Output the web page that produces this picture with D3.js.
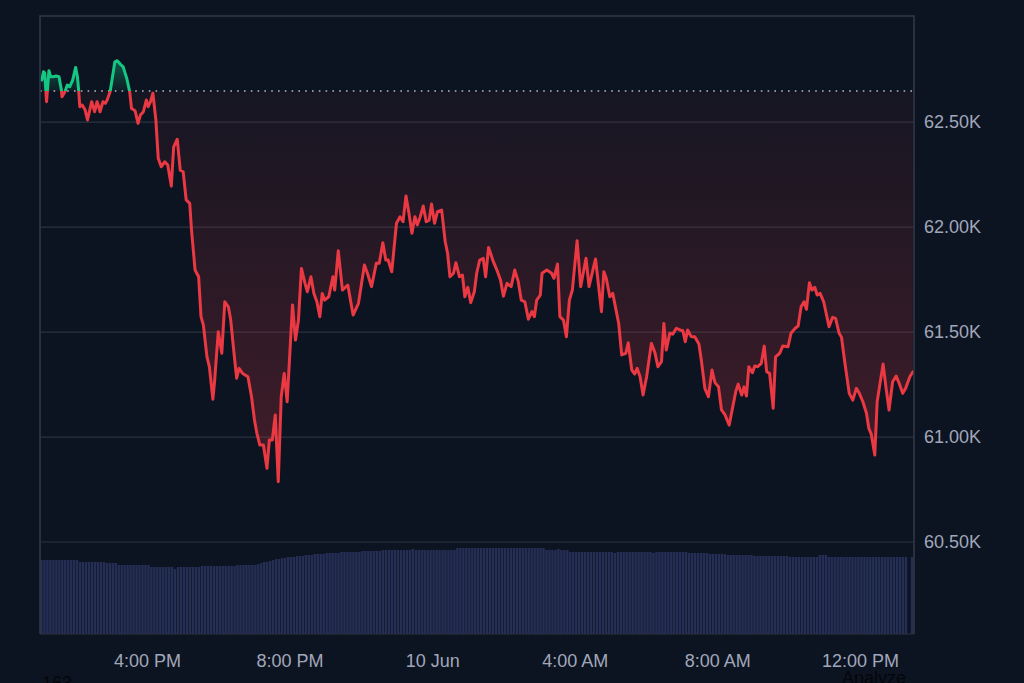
<!DOCTYPE html>
<html><head><meta charset="utf-8">
<script src="https://cdn.jsdelivr.net/npm/d3@7"></script>
<style>
html,body{margin:0;padding:0;background:#0d1421;}
svg{display:block;}
text{font-family:"Liberation Sans", Arial, sans-serif;}
</style></head><body>
<svg id="chart" width="1024" height="683"></svg>
<script>
// ---------- DATA ----------
const startTimeStr = "2024-06-09 13:00";
const endMinute = 1471;               // minutes after start covered by the x axis
// price samples: minutes after start, price in USD
const minutes = [3,6,8,11,15,18,22,27,32,36,37,42,46,50,55,60,63,65,67,71,76,80,85,87,92,96,98,101,106,110,113,118,122,126,130,135,140,146,151,154,160,165,169,174,179,182,186,190,195,199,204,210,215,221,225,231,236,241,246,252,255,261,267,271,275,281,285,291,294,300,306,311,317,321,326,331,335,341,350,356,361,365,370,376,382,386,391,396,401,406,411,416,425,430,435,440,446,450,456,461,466,471,475,479,486,493,496,502,509,518,527,536,546,551,558,566,571,577,582,586,592,600,606,611,616,621,626,631,635,640,645,650,655,659,664,669,676,682,686,690,696,700,706,711,715,720,725,731,735,740,746,750,755,763,769,775,780,786,793,799,805,810,816,822,828,832,836,842,845,853,861,865,871,875,881,886,891,896,904,910,919,924,935,945,949,953,959,964,974,979,986,990,996,1001,1005,1010,1015,1021,1029,1035,1040,1046,1050,1054,1060,1065,1071,1077,1082,1086,1090,1096,1102,1109,1113,1119,1125,1131,1136,1142,1147,1153,1160,1166,1171,1175,1181,1185,1189,1193,1199,1203,1208,1214,1219,1223,1228,1234,1238,1245,1250,1259,1264,1271,1276,1281,1286,1290,1295,1299,1304,1308,1313,1319,1328,1334,1339,1345,1349,1354,1362,1368,1374,1379,1385,1391,1395,1399,1405,1409,1419,1424,1429,1435,1441,1446,1452,1457,1464,1469];
const prices = [62700,62740,62733,62597,62744,62716,62716,62719,62716,62652,62620,62644,62676,62668,62700,62760,62716,62652,62573,62581,62557,62510,62573,62597,62549,62597,62581,62549,62597,62589,62605,62644,62716,62787,62792,62776,62763,62708,62644,62565,62554,62494,62533,62549,62605,62573,62597,62637,62510,62327,62287,62311,62295,62195,62382,62418,62271,62263,62129,62113,61986,61795,61763,61573,61533,61382,61335,61180,61271,61501,61399,61644,61620,61557,61414,61280,61327,61303,61287,61192,61081,61018,60962,60962,60851,60986,60986,61105,60787,61192,61303,61168,61629,61462,61557,61803,61732,61692,61763,61684,61644,61573,61684,61652,61668,61763,61700,61887,61700,61724,61581,61637,61819,61780,61716,61827,61827,61925,61843,61843,61787,62018,62049,62025,62148,62065,61970,62049,62010,62049,62100,62025,62033,62110,62018,62073,62081,61930,61875,61763,61780,61830,61763,61771,61668,61713,61640,61692,61780,61843,61851,61763,61903,61835,61795,61748,61671,61732,61716,61795,61740,61652,61644,61561,61597,61573,61652,61676,61780,61795,61780,61756,61824,61573,61557,61478,61652,61700,61935,61716,61851,61716,61848,61597,61787,61756,61668,61684,61541,61391,61399,61449,61319,61300,61327,61287,61200,61287,61446,61401,61335,61359,61541,61414,61494,61490,61518,61510,61506,61454,61510,61478,61478,61443,61367,61232,61192,61319,61259,61239,61129,61105,61057,61144,61216,61252,61200,61239,61195,61335,61306,61338,61335,61351,61433,61311,61303,61137,61382,61399,61433,61430,61494,61518,61529,61620,61644,61608,61735,61700,61713,61676,61684,61644,61525,61570,61565,61494,61475,61367,61208,61176,61232,61208,61168,61113,61041,61014,60914,61168,61348,61232,61129,61263,61290,61256,61208,61232,61287,61310];
const baselinePrice = 62648;          // reference (open) price, dotted line
const priceDomain = [60062, 63005];
const priceTicks = [60500, 61000, 61500, 62000, 62500];
const timeTicks = ["2024-06-09 16:00","2024-06-09 20:00","2024-06-10 00:00","2024-06-10 04:00","2024-06-10 08:00","2024-06-10 12:00"];
const timeTickLabels = ["4:00 PM","8:00 PM","10 Jun","4:00 AM","8:00 AM","12:00 PM"];
const volumeInterval = 5;             // minutes per volume bar
const volumeMax = 100;                // relative volume units
const volumes = [
74,74,74,74,74,74,74,74,74,74,74,74,
74,72,72,72,72,72,72,72,72,72,71,71,
71,71,69,69,69,69,69,69,69,69,69,69,
69,67,67,67,67,67,67,67,67,65,67,67,
67,67,67,67,67,67,68,68,68,68,68,68,
68,68,68,68,68,68,69,69,69,69,69,69,
69,70,71,72,72,73,74,75,75,76,76,77,
77,77,78,78,78,79,79,79,80,80,80,80,
81,81,81,81,81,82,82,82,82,82,82,82,
83,83,83,83,83,83,83,84,84,84,84,84,
84,84,84,84,84,85,84,84,84,84,84,84,
84,84,84,84,84,84,84,84,86,86,86,86,
86,86,86,86,86,86,86,86,86,86,86,86,
86,86,86,86,86,86,86,86,86,86,86,86,
86,86,84,84,84,84,85,84,84,84,82,82,
82,82,82,82,82,82,82,82,82,82,82,82,
82,81,82,82,82,82,82,82,82,82,82,82,
82,82,81,82,82,82,82,82,82,82,82,82,
82,82,81,81,81,81,81,81,81,80,80,80,
80,80,80,79,79,79,79,79,79,79,79,79,
78,78,78,78,78,78,78,78,78,78,78,78,
77,77,77,77,77,77,77,77,77,77,79,79,
79,77,77,77,77,77,77,77,77,77,77,77,
77,77,77,77,77,77,77,77,77,77,77,77,
77,77,77,77,0,77];
const footerLeft = "163";
const footerRight = "Analyze";

// ---------- CHART ----------
(function draw() {
const pL = 40, pR = 914, pT = 16, pB = 634;
const svg = d3.select("#chart");
const parse = d3.timeParse("%Y-%m-%d %H:%M");
const t0 = parse(startTimeStr);
const addMin = m => new Date(t0.getTime() + m * 60000);

const x = d3.scaleTime().domain([t0, addMin(endMinute)]).range([pL, pR]);
const y = d3.scaleLinear().domain(priceDomain).range([pB, pT]);
const vy = d3.scaleLinear().domain([0, volumeMax]).range([pB, pB - 100]);

const data = minutes.map((m, i) => ({date: addMin(m), price: prices[i]}));
const RED = "#ea3943", GREEN = "#16c784";
const by = y(baselinePrice);

const defs = svg.append("defs");
defs.append("clipPath").attr("id","clipAbove").append("rect")
  .attr("x", pL).attr("y", pT).attr("width", pR-pL).attr("height", by-pT);
defs.append("clipPath").attr("id","clipBelow").append("rect")
  .attr("x", pL).attr("y", by).attr("width", pR-pL).attr("height", pB-by);
const gRed = defs.append("linearGradient").attr("id","gradRed")
  .attr("gradientUnits","userSpaceOnUse").attr("x1",0).attr("x2",0)
  .attr("y1", by).attr("y2", y(d3.min(prices)));
gRed.append("stop").attr("offset","0").attr("stop-color",RED).attr("stop-opacity",0.04);
gRed.append("stop").attr("offset","1").attr("stop-color",RED).attr("stop-opacity",0.24);
const gGreen = defs.append("linearGradient").attr("id","gradGreen")
  .attr("gradientUnits","userSpaceOnUse").attr("x1",0).attr("x2",0)
  .attr("y1", by).attr("y2", y(d3.max(prices)));
gGreen.append("stop").attr("offset","0").attr("stop-color",GREEN).attr("stop-opacity",0.05);
gGreen.append("stop").attr("offset","1").attr("stop-color",GREEN).attr("stop-opacity",0.38);

// gridlines
svg.append("g").selectAll("line").data(priceTicks).join("line")
  .attr("x1", pL).attr("x2", pR)
  .attr("y1", d => y(d)).attr("y2", d => y(d))
  .attr("stroke", "#2b3040").attr("stroke-width", 1.2);

// volume bars
const step = x(addMin(volumeInterval)) - x(t0);
svg.append("g").selectAll("rect").data(volumes.map((v,i)=>({i, v}))).join("rect")
  .attr("x", d => x(addMin(d.i*volumeInterval)) + 0.3)
  .attr("width", step - 0.6)
  .attr("y", d => vy(d.v))
  .attr("height", d => pB - vy(d.v))
  .attr("fill", "#27305a").attr("opacity", d => d.v > 0 ? 0.95 : 0);

// areas
const area = d3.area().x(d => x(d.date)).y0(by).y1(d => y(d.price));
svg.append("path").datum(data).attr("d", area).attr("fill","url(#gradRed)").attr("clip-path","url(#clipBelow)");
svg.append("path").datum(data).attr("d", area).attr("fill","url(#gradGreen)").attr("clip-path","url(#clipAbove)");

// baseline dotted
svg.append("line").attr("x1", pL).attr("x2", pR).attr("y1", by).attr("y2", by)
  .attr("stroke", "#b4b8c4").attr("stroke-width", 1.5).attr("stroke-dasharray", "1.6 5.2");

// lines
const line = d3.line().x(d => x(d.date)).y(d => y(d.price));
svg.append("path").datum(data).attr("d", line).attr("fill","none").attr("stroke",RED)
  .attr("stroke-width",3).attr("stroke-linejoin","round").attr("stroke-linecap","round").attr("clip-path","url(#clipBelow)");
svg.append("path").datum(data).attr("d", line).attr("fill","none").attr("stroke",GREEN)
  .attr("stroke-width",3).attr("stroke-linejoin","round").attr("stroke-linecap","round").attr("clip-path","url(#clipAbove)");

// frame
svg.append("path")
  .attr("d", `M${pL},${pB}V${pT}H${pR}V${pB}`)
  .attr("fill","none").attr("stroke","#323747").attr("stroke-width",1.6);
svg.append("line").attr("x1",pL).attr("x2",pR).attr("y1",pB).attr("y2",pB)
  .attr("stroke","#2b3040").attr("stroke-width",1.2);

// axes
const yAxis = d3.axisRight(y).tickValues(priceTicks).tickSize(0).tickPadding(10)
  .tickFormat(d => (d/1000).toFixed(2) + "K");
const ga = svg.append("g").attr("transform", `translate(${pR},0)`).call(yAxis);
ga.select(".domain").remove();
ga.selectAll("text").attr("fill","#a1a7bb").attr("font-size",18)
  .attr("font-family",'"Liberation Sans", Arial, sans-serif');

const xAxis = d3.axisBottom(x).tickValues(timeTicks.map(parse)).tickSize(0).tickPadding(20)
  .tickFormat((d,i) => timeTickLabels[i]);
const gx = svg.append("g").attr("transform", `translate(0,${pB})`).call(xAxis);
gx.select(".domain").remove();
gx.selectAll("text").attr("fill","#a1a7bb").attr("font-size",18)
  .attr("font-family",'"Liberation Sans", Arial, sans-serif');

// footer (texts cut off by the bottom edge, as in the reference)
svg.append("text").attr("x",42).attr("y",689).attr("font-size",18).attr("fill","#04060b").text(footerLeft);
svg.append("text").attr("x",842).attr("y",684).attr("font-size",18).attr("fill","#04060b").text(footerRight);
})();
</script>
</body></html>
